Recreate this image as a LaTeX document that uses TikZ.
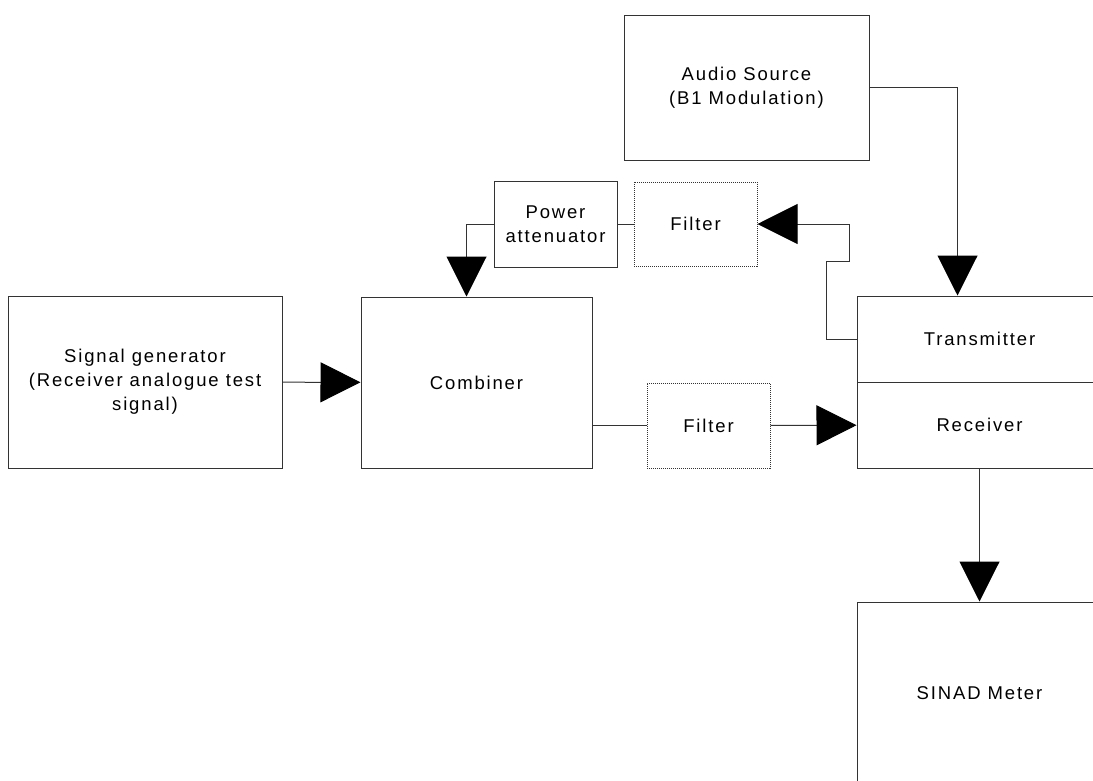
\documentclass[tikz,border=0pt]{standalone}
\usepackage{fontspec}
\setmainfont{Liberation Sans}[LetterSpace=10]
\usetikzlibrary{arrows.meta,positioning}

\begin{document}
\begin{tikzpicture}[
x=1pt, y=-1pt,
font=\fontsize{18.5}{24}\selectfont,
block/.style={draw=black!80, line width=1pt, align=center, inner sep=0pt},
filterbox/.style={block, densely dotted},
wire/.style={draw=black!80, line width=1pt},
arr/.style={wire, -{Triangle[length=40pt,width=40pt,color=black,fill=black]}},
]
\useasboundingbox (0,0) rectangle (1093,780);
\clip (0,0) rectangle (1093,780);

% blocks
\node[block, minimum width=274, minimum height=172] (gen) at (145,382) {Signal generator\\(Receiver analogue test\\signal)};
\node[block, minimum width=231, minimum height=171] (comb) at (476.5,382.5) {Combiner};
\node[block, minimum width=123, minimum height=86] (att) at (555.5,224) {Power\\attenuator};
\node[filterbox, minimum width=123, minimum height=84] (filtA) at (695.5,224) {Filter};
\node[filterbox, minimum width=123, minimum height=85] (filtB) at (708.5,425.5) {Filter};
\node[block, minimum width=245, minimum height=145] (audio) at (746.5,87.5) {Audio Source\\(B1 Modulation)};
\node[block, minimum width=245, minimum height=86] (tx) at (979.5,339) {Transmitter};
\node[block, minimum width=245, minimum height=86] (rx) at (979.5,425) {Receiver};
\node[block, minimum width=245, minimum height=182] (sinad) at (979.5,693) {SINAD Meter};

% connections
\draw[arr] (gen) -- (comb);
\draw[wire] (filtB.west -| comb.east) -- (filtB.west);
\draw[arr] (filtB) -- (rx);
\draw[wire] (filtA) -- (att);
\draw[arr] (att.west) -| ([xshift=-27]att.west |- comb.north);
\draw[arr] (tx.west) -- ++(-30,0) -- ++(0,-78) -- ++(23,0) |- (filtA.east);
\draw[arr] (audio.east) -| ([xshift=-22]tx.north);
\draw[arr] (rx) -- (sinad);

\end{tikzpicture}
\end{document}
